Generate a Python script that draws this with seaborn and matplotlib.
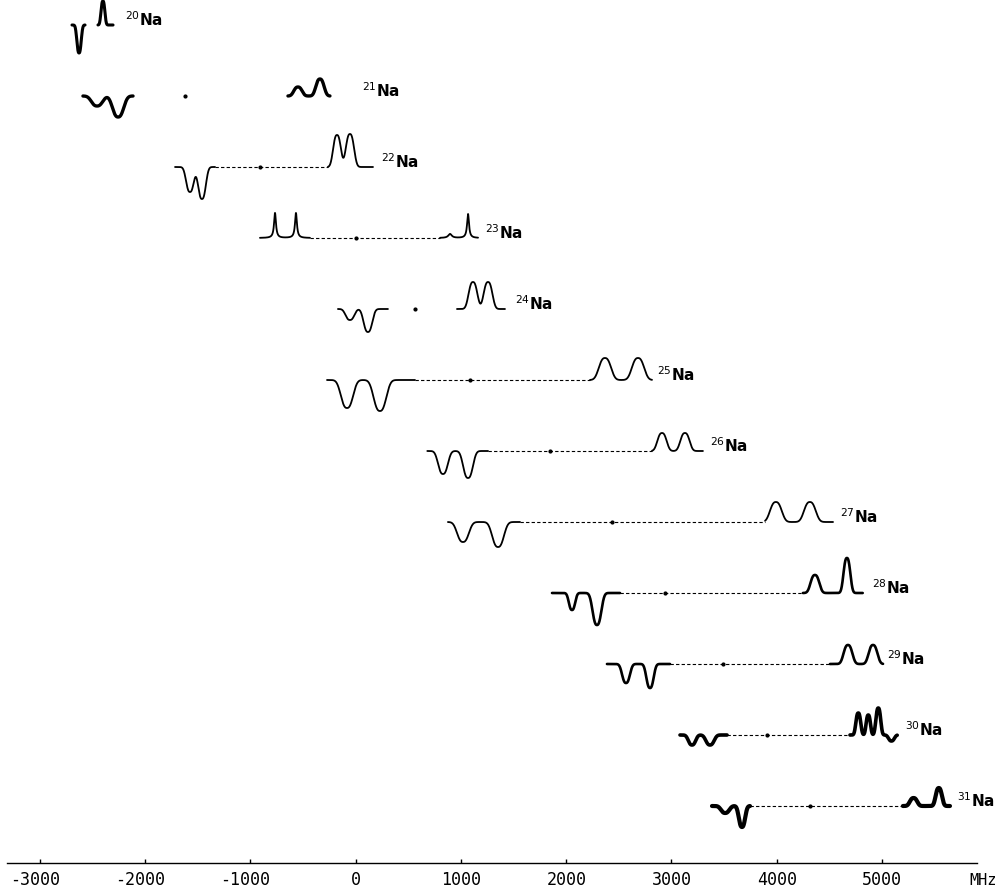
import numpy as np
import pandas as pd
import matplotlib
matplotlib.use("Agg")
import matplotlib.pyplot as plt
import seaborn as sns

# Sodium isotopes, one hyperfine scan per row
mass_numbers = [20, 21, 22, 23, 24, 25, 26, 27, 28, 29, 30, 31]

# scanned frequency windows (MHz): low-frequency and high-frequency groups
low_window = [(-2696, -2572), (-2592, -2116), (-1717, -1337), (-910, -435),
              (-169, 306), (-273, 563), (680, 1257), (876, 1561),
              (1865, 2511), (2387, 2986), (3081, 3528), (3385, 3746)]
high_window = [(-2449, -2306), (-644, -245), (-264, 164), (801, 1162),
               (962, 1418), (2226, 2815), (2815, 3299), (3889, 4535),
               (4249, 4817), (4506, 5010), (4696, 5145), (5199, 5646)]

# resonance lines: centre (MHz), signed signal (arb. units), FWHM (MHz)
low_centres = [[-2629], [-2458, -2258], [-1575, -1461], [-767, -568],
               [-55, 116], [-83, 230], [829, 1067], [1019, 1352],
               [2055, 2292], [2568, 2796], [3195, 3366], [3510, 3670]]
low_signal = [[-28], [-10, -21], [-25, -32], [25, 25],
              [-11, -23], [-28, -31], [-23, -27], [-20, -25],
              [-17, -32], [-19, -24], [-10, -10], [-7, -21]]
low_fwhm = [[45], [115, 115], [80, 80], [22, 22],
            [90, 90], [125, 130], [100, 100], [120, 120],
            [65, 90], [80, 75], [75, 85], [85, 65]]

high_centres = [[-2402], [-549, -340], [-178, -55], [896, 1067],
                [1114, 1257], [2368, 2682], [2910, 3128], [3992, 4315],
                [4363, 4667], [4677, 4915], [4775, 4870, 4965, 5090], [5300, 5540]]
high_signal = [[24], [9, 17], [32, 33], [4, 24],
               [27, 27], [22, 22], [18, 18], [20, 20],
               [18, 35], [19, 19], [22, 20, 27, -6], [8, 18]]
high_fwhm = [[40], [85, 85], [80, 85], [40, 22],
             [90, 90], [125, 125], [95, 95], [120, 120],
             [90, 70], [90, 90], [50, 45, 50, 60], [75, 65]]

# centre of gravity of each pattern (MHz); None where not marked
centroid = [None, -1622, -910, 0, 566, 1086, 1846, 2435, 2938, 3489, 3909, 4318]
# rows where the two groups are joined by a dotted line
joined = [False, False, True, True, False, True, True, True, True, True, True, True]
# isotope label anchor (MHz)
label_at = [-2191, 59, 240, 1228, 1513, 2862, 3366, 4600, 4905, 5048, 5219, 5713]

tick_values = [-3000, -2000, -1000, 0, 1000, 2000, 3000, 4000, 5000]

# ---- styling ------------------------------------------------------------
ROW = 71.0                      # vertical spacing between scans
trace_width = {20: 2.2, 21: 2.4, 28: 1.9, 29: 1.9, 30: 2.6, 31: 3.0}
lorentzian_rows = {23}
SHAPE = 2.6                     # exponent of the flat-topped line profile

sns.set_theme(style="white")
plt.rcParams["font.family"] = ["DejaVu Sans"]


def profile(x, centres, signal, fwhm, lorentz):
    y = np.zeros_like(x)
    for c, a, w in zip(centres, signal, fwhm):
        if lorentz:
            y += a / (1.0 + ((x - c) / (w / 2.0)) ** 2)
        else:
            y += a * np.exp(-np.log(2) * np.abs(2 * (x - c) / w) ** SHAPE)
    return y


fig = plt.figure(figsize=(10.07, 8.92), dpi=100)
ax = fig.add_axes([0, 0, 1, 1])
ax.set_xlim(-3380, 6188)
ax.set_ylim(-867, 25)

for i, m in enumerate(mass_numbers):
    base = -ROW * i
    lor = m in lorentzian_rows
    frames = []
    for seg, (win, cen, sig, wid) in enumerate([
            (low_window[i], low_centres[i], low_signal[i], low_fwhm[i]),
            (high_window[i], high_centres[i], high_signal[i], high_fwhm[i])]):
        f = np.linspace(win[0], win[1], 500)
        frames.append(pd.DataFrame({
            "freq": f,
            "signal": base + profile(f, cen, sig, wid, lor),
            "segment": seg,
        }))
    scan = pd.concat(frames, ignore_index=True)
    sns.lineplot(data=scan, x="freq", y="signal", units="segment",
                 estimator=None, color="black",
                 lw=trace_width.get(m, 1.3), ax=ax)

    if joined[i]:
        ax.plot([low_window[i][1], high_window[i][0]], [base, base],
                color="black", lw=0.8, ls=(0, (3, 2)))
    if centroid[i] is not None:
        ax.plot([centroid[i]], [base], marker="o", ms=2.0, color="black",
                mec="black")

    ax.text(label_at[i], base + 5, rf"$^{{{m}}}$Na", fontsize=11,
            fontweight="bold", ha="left", va="center", color="black")

# frequency axis drawn at the foot of the stack
axis_y = -838
for side in ["top", "left", "right"]:
    ax.spines[side].set_visible(False)
ax.spines["bottom"].set_position(("data", axis_y))
ax.spines["bottom"].set_bounds(-3314, 5902)
ax.spines["bottom"].set_color("black")
ax.spines["bottom"].set_linewidth(1.0)
ax.set_xticks(tick_values)
ax.set_yticks([])
ax.tick_params(axis="x", direction="in", length=3, width=1, color="black",
               labelbottom=False, bottom=True)
ax.set_xlabel("")
ax.set_ylabel("")

mono = "DejaVu Sans Mono"
fs = 12
char_w = 0.602 * fs
for v in tick_values:
    digits = str(abs(v))
    txt = f"-{digits}" if v < 0 else digits
    ax.annotate(txt, xy=(v, axis_y), xytext=(len(digits) * char_w / 2, -6),
                textcoords="offset points", ha="right", va="top",
                fontfamily=mono, fontsize=fs, color="black")
ax.annotate("MHz", xy=(5960, axis_y), xytext=(0, -7), textcoords="offset points",
            ha="center", va="top", fontfamily=mono, fontsize=11, color="black")

fig.savefig("out.png", dpi=100, facecolor="white")
